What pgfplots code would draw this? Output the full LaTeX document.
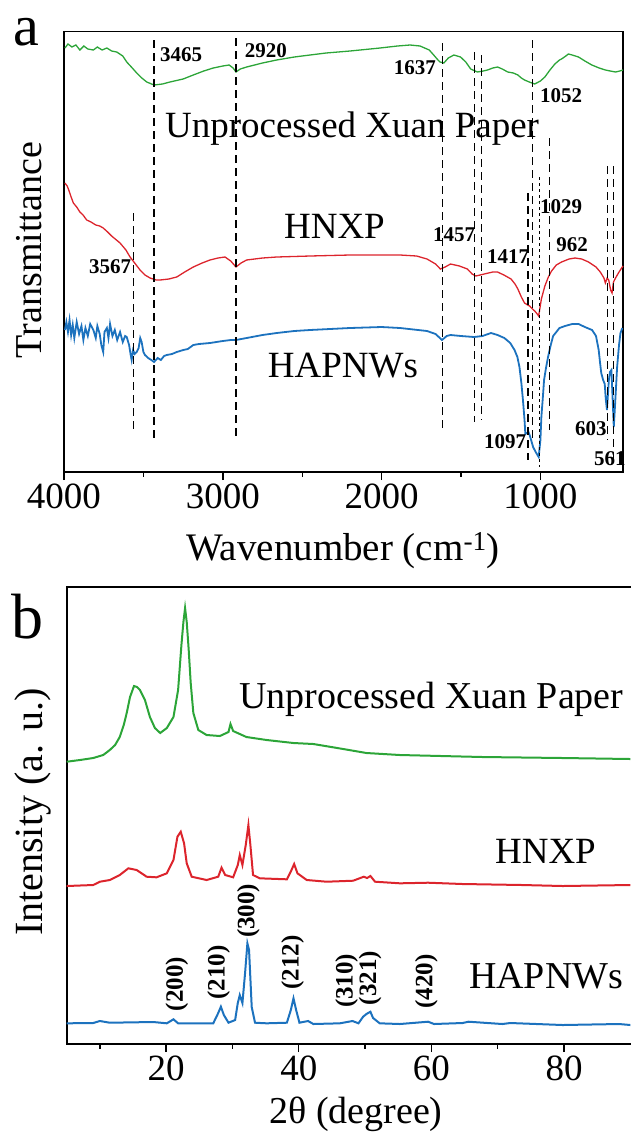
\documentclass[border=0pt]{standalone}
\usepackage{pgfplots}
\pgfplotsset{compat=1.18}
\usepackage{fontspec}
\setmainfont{Liberation Serif}

\definecolor{cgreen}{RGB}{44,165,56}
\definecolor{cred}{RGB}{220,36,44}
\definecolor{cblue}{RGB}{28,114,190}

\newcommand{\fs}[1]{\fontsize{#1}{#1}\selectfont}

\pgfplotsset{
  panel/.style={
    scale only axis, clip=false,
    tick align=outside,
    major tick length=8pt, minor tick length=4.5pt,
    every tick/.style={black, line width=1.4pt},
    axis line style={line width=1.6pt},
    xtick pos=bottom, ytick=\empty,
    ticklabel style={font=\fs{37}},
    /pgf/number format/assume math mode=true,
    /pgf/number format/1000 sep={},
    scaled x ticks=false,
  },
  vline/.style={black, line width=1.3pt, dash pattern=on 8pt off 5pt, no marks},
}
\tikzset{
  peak/.style={font=\fs{21}\bfseries, inner sep=0pt},
  series/.style={font=\fs{37}, anchor=base, inner sep=0pt},
  hkl/.style={font=\fs{25}\bfseries, rotate=90, inner sep=0pt},
}

\begin{document}
\begin{tikzpicture}
\useasboundingbox (0,0) rectangle (631pt,-1140pt);

% ---------- panel a: FTIR ----------
\begin{axis}[panel,
  at={(64pt,-31.5pt)}, anchor=north west,
  width=559pt, height=440.5pt,
  x dir=reverse, xmin=480, xmax=4000,
  y dir=reverse, ymin=31.5, ymax=472,
  xtick={1000,2000,3000,4000}, minor xtick={1500,2500,3500},
]
% unprocessed xuan paper
\addplot[cgreen, line width=1.3pt, no marks] coordinates {
(3994,48) (3975,44) (3950,47) (3925,45) (3900,50) (3875,46) (3850,49) (3815,50)
(3790,47) (3760,50) (3730,48) (3700,51) (3668,52) (3630,56) (3605,62) (3570,68)
(3542,73) (3510,78) (3479,82) (3433,85) (3380,84) (3333,82) (3250,79) (3186,75)
(3120,71) (3060,68) (3000,66) (2960,65) (2935,68) (2917,72) (2890,69) (2850,67)
(2750,63) (2661,60) (2550,57) (2451,55) (2350,53) (2199,51) (2010,48) (1900,46)
(1821,45) (1758,46) (1700,50) (1672,55) (1645,60) (1632,62) (1608,63) (1580,58)
(1545,55) (1503,57) (1470,62) (1439,69) (1397,72) (1360,71) (1333,70) (1300,68)
(1270,67) (1240,69) (1206,72) (1170,73) (1142,75) (1120,78) (1100,80) (1070,82)
(1036,84) (1000,81) (972,77) (940,70) (909,64) (880,60) (867,59) (840,56)
(824,54) (800,55) (760,57) (720,61) (676,65) (630,68) (591,70) (560,71)
(527,72) (500,71) (480,70)
};
% HNXP
\addplot[cred, line width=1.3pt, no marks] coordinates {
(3994,183) (3980,186) (3970,190) (3955,197) (3941,203) (3920,207) (3900,212)
(3880,215) (3857,220) (3830,222) (3800,225) (3775,226) (3753,228) (3725,232)
(3700,236) (3647,243) (3610,250) (3584,257) (3550,264) (3521,270) (3490,275)
(3458,278) (3420,280) (3395,280) (3340,279) (3290,277) (3240,272) (3186,267)
(3130,263) (3081,260) (3030,258) (2986,257) (2950,261) (2917,267) (2885,263)
(2850,260) (2750,258) (2661,257) (2450,256) (2199,255) (1884,255) (1780,256)
(1714,259) (1660,264) (1630,269) (1600,267) (1566,264) (1510,266) (1460,269)
(1430,274) (1407,276) (1380,275) (1354,274) (1300,272) (1270,272) (1230,275)
(1185,279) (1160,284) (1142,289) (1120,297) (1100,303) (1080,305) (1068,306)
(1050,309) (1036,311) (1020,314) (1011,316) (1000,305) (994,299) (972,286)
(950,277) (930,271) (900,265) (867,262) (820,259) (782,258) (740,259) (697,262)
(650,267) (623,272) (600,278) (591,283) (580,278) (570,280) (558,290) (549,293)
(540,282) (527,278) (505,272) (480,266)
};
% HAPNWs
\addplot[cblue, line width=1.8pt, no marks] coordinates {
(3994,330) (3985,322) (3975,332) (3965,320) (3955,335) (3945,325) (3935,338)
(3920,322) (3905,334) (3890,326) (3878,340) (3865,328) (3850,336) (3835,324)
(3815,330) (3800,338) (3790,326) (3775,334) (3765,345) (3753,352) (3745,332)
(3730,328) (3720,338) (3710,324) (3695,336) (3680,330) (3665,340) (3647,332)
(3630,342) (3615,336) (3605,337) (3590,345) (3580,355) (3574,360) (3565,350)
(3555,354) (3542,352) (3530,348) (3520,338) (3511,342) (3500,352) (3490,355)
(3470,358) (3450,360) (3433,362) (3410,358) (3390,360) (3370,356) (3353,355)
(3320,354) (3290,352) (3249,350) (3220,349) (3186,345) (3150,344) (3081,343)
(3000,341) (2950,340) (2917,340) (2850,338) (2750,335) (2661,333) (2550,331)
(2451,330) (2199,328) (2000,327) (1884,328) (1714,331) (1660,334) (1620,340)
(1590,336) (1566,335) (1500,336) (1418,337) (1365,336) (1311,333) (1270,335)
(1227,338) (1190,343) (1163,350) (1145,357) (1132,367) (1120,383) (1110,400)
(1100,420) (1095,434) (1085,433) (1075,432) (1068,435) (1055,442) (1046,447)
(1030,452) (1011,457) (1000,440) (994,417) (985,398) (977,380) (965,368)
(952,357) (935,345) (920,336) (880,328) (845,326) (800,324) (760,324) (720,327)
(675,330) (650,336) (633,350) (625,362) (617,373) (605,380) (595,384) (588,400)
(581,410) (575,395) (569,380) (562,372) (553,370) (545,400) (538,427) (530,405)
(517,367) (505,345) (496,333) (484,328)
};
% band guide lines
\addplot[vline] coordinates {(3564,213) (3564,432)};
\addplot[vline] coordinates {(3433,40) (3433,438)};
\addplot[vline] coordinates {(2917,38) (2917,438)};
\addplot[vline] coordinates {(1615,43) (1615,428)};
\addplot[vline] coordinates {(1414,52) (1414,422)};
\addplot[vline] coordinates {(1371,55) (1371,420)};
\addplot[vline] coordinates {(1078,193) (1078,460)};
\addplot[vline] coordinates {(1051,40) (1051,440)};
\addplot[vline, dash pattern=on 3pt off 3pt] coordinates {(1004,177) (1004,467)};
\addplot[vline] coordinates {(945,138) (945,430)};
\addplot[vline] coordinates {(576,166) (576,440)};
\addplot[vline] coordinates {(538,166) (538,460)};

\node[peak] at (axis cs:3263,55) {3465};
\node[peak] at (axis cs:2728,51) {2920};
\node[peak] at (axis cs:1790,68) {1637};
\node[peak] at (axis cs:870,96) {1052};
\node[peak] at (axis cs:3710,267) {3567};
\node[peak] at (axis cs:1544,235) {1457};
\node[peak] at (axis cs:1204,257) {1417};
\node[peak] at (axis cs:870,207) {1029};
\node[peak] at (axis cs:801,245) {962};
\node[peak] at (axis cs:1223,442) {1097};
\node[peak] at (axis cs:682,429) {603};
\node[peak] at (axis cs:562,459) {561};

\node[series] at (axis cs:2186,137) {Unprocessed Xuan Paper};
\node[series] at (axis cs:2297,238) {HNXP};
\node[series] at (axis cs:2243,377) {HAPNWs};
\end{axis}

% ---------- panel b: XRD ----------
\begin{axis}[panel,
  at={(66.7pt,-587pt)}, anchor=north west,
  width=566.3pt, height=457pt,
  xmin=5, xmax=90.4,
  y dir=reverse, ymin=587, ymax=1044,
  xtick={20,40,60,80}, minor xtick={10,30,50,70},
]
\addplot[cgreen, line width=2pt, no marks] coordinates {
(5.0,761.7) (7,760) (9.0,758) (10.5,755) (11.5,750) (12.3,745) (13.0,737)
(13.6,725) (14.05,713) (14.55,697) (15.15,686) (15.6,687) (16.05,690) (16.8,700)
(17.55,717) (18.3,728) (19.1,733) (20.1,728) (21.1,717) (21.8,690) (22.3,645)
(22.6,622) (22.85,608) (23.1,622) (23.4,650) (23.7,683) (24.1,713) (24.85,730)
(26.1,735) (28.1,736) (29.4,732) (29.7,724) (30.1,731) (32.1,737) (35.15,740)
(39.2,743) (42.2,744) (46.7,749) (50.2,753) (55.25,755) (67.7,757) (79.8,758)
(90,759)
};
\addplot[cred, line width=2pt, no marks] coordinates {
(5.0,886) (9.0,885) (10.0,881.7) (11.5,880) (13.0,875) (14.3,868.3) (15.55,870)
(16.3,873.3) (17.05,876.7) (18.55,877.3) (20.1,873.3) (21.1,860) (21.7,836.7)
(22.2,831.7) (22.7,843.3) (23.1,863.3) (23.85,876.7) (26.1,880) (27.85,876.7)
(28.35,867.7) (28.9,875) (30.1,877.3) (30.8,865) (31.1,855) (31.5,865) (32.0,845)
(32.4,825) (32.7,845) (33.1,875) (34.1,878.3) (38.2,879.3) (38.9,870) (39.3,864)
(39.8,873.3) (41.2,880) (44.2,881.7) (48.2,880.7) (49.8,876.7) (50.3,878)
(50.8,876) (51.5,881.7) (55.25,883.3) (59.5,882.7) (64.7,884) (73.7,885)
(79.8,886) (90,885)
};
\addplot[cblue, line width=2pt, no marks] coordinates {
(5.0,1023.3) (9.0,1023) (10.0,1021) (11.5,1022.7) (18.05,1022) (20.1,1023.3)
(21.1,1019.3) (21.8,1023.3) (27.1,1023.3) (27.85,1013) (28.25,1006.7) (28.7,1015)
(29.4,1022.7) (30.4,1020) (30.8,1003) (31.1,995) (31.5,1003) (31.9,973)
(32.25,943.3) (32.5,950) (32.9,1007) (33.4,1022.7) (35.15,1023.3) (38.2,1022.7)
(38.8,1010) (39.2,998.3) (39.6,1010) (40.1,1022.7) (41.4,1021) (42.2,1024)
(46.2,1023.3) (48.1,1021) (49.0,1023.3) (49.7,1016.7) (50.2,1014) (50.8,1011.7)
(51.2,1018) (52.2,1023.3) (55.25,1024) (59.5,1021.7) (60.4,1024) (64.7,1023)
(65.6,1021.7) (70.7,1024) (71.9,1023) (79.8,1025) (88.3,1024) (90,1025)
};

\node[series, font=\fs{38}] at (axis cs:60.0,708) {Unprocessed Xuan Paper};
\node[series] at (axis cs:77.2,863.3) {HNXP};
\node[series, font=\fs{38}] at (axis cs:77.3,988.3) {HAPNWs};

\node[hkl] at (axis cs:21.6,984) {(200)};
\node[hkl] at (axis cs:27.9,972.5) {(210)};
\node[hkl] at (axis cs:32.4,910.8) {(300)};
\node[hkl] at (axis cs:39.05,962.5) {(212)};
\node[hkl] at (axis cs:47.2,980.8) {(310)};
\node[hkl] at (axis cs:50.75,978) {(321)};
\node[hkl] at (axis cs:59.25,981.7) {(420)};
\end{axis}

% panel letters and axis titles
\node[anchor=base, font=\fs{58}, inner sep=0pt] at (26pt,-46pt) {a};
\node[anchor=base, font=\fs{64}, inner sep=0pt] at (27pt,-638pt) {b};
\node[rotate=90, font=\fs{38}, inner sep=0pt] at (29pt,-250pt) {Transmittance};
\node[rotate=90, font=\fs{40}, inner sep=0pt] at (33pt,-812pt) {Intensity (a. u.)};
\node[anchor=base, font=\fs{39}, inner sep=0pt] at (343pt,-560pt) {Wavenumber (cm\textsuperscript{-1})};
\node[anchor=base, font=\fs{38}, inner sep=0pt] at (356pt,-1123pt) {2θ (degree)};
\end{tikzpicture}
\end{document}
